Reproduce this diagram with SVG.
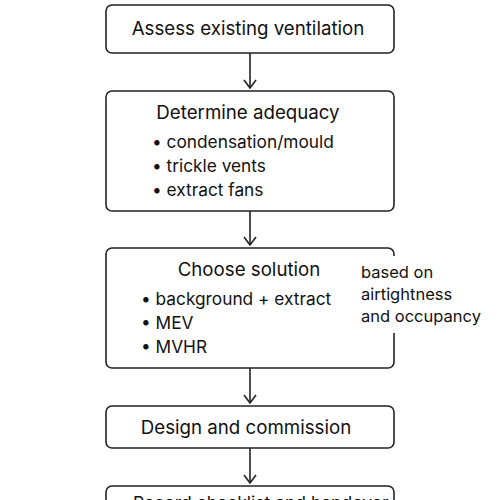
<svg xmlns="http://www.w3.org/2000/svg" width="500" height="500" viewBox="0 0 500 500">
<defs>
<style>
.box{fill:#fff;stroke:#222;stroke-width:1.6}
.t{font-family:Inter,"Liberation Sans",sans-serif;font-size:18.7px;fill:#111}
.c{text-anchor:middle}
.s{font-family:Inter,"Liberation Sans",sans-serif;font-size:17.3px;fill:#111}
.n{font-family:Inter,"Liberation Sans",sans-serif;font-size:16.5px;fill:#111}
.ln{stroke:#222;stroke-width:1.6;fill:none}
</style>
<marker id="ah" viewBox="0 0 10 14" refX="9" refY="7" markerWidth="10" markerHeight="14" markerUnits="userSpaceOnUse" orient="auto">
<path d="M1,1 L9,7 L1,13" fill="none" stroke="#222" stroke-width="1.6"/>
</marker>
</defs>
<rect width="500" height="500" fill="#fff"/>
<g id="connectors">
<line class="ln" x1="250" y1="53" x2="250" y2="88" marker-end="url(#ah)"/>
<line class="ln" x1="250" y1="211" x2="250" y2="245" marker-end="url(#ah)"/>
<line class="ln" x1="250" y1="368" x2="250" y2="403" marker-end="url(#ah)"/>
<line class="ln" x1="250" y1="448" x2="250" y2="483" marker-end="url(#ah)"/>
</g>
<g id="n1">
<rect class="box" x="106" y="5" width="288" height="48" rx="6"/>
<text class="t c" x="248" y="35">Assess existing ventilation</text>
</g>
<g id="n2">
<rect class="box" x="106" y="91" width="288" height="120" rx="6"/>
<text class="t c" x="248" y="119">Determine adequacy</text>
<text class="s" x="152" y="148">•  condensation/mould</text>
<text class="s" x="152" y="172">•  trickle vents</text>
<text class="s" x="152" y="196">•  extract fans</text>
</g>
<g id="n3">
<rect class="box" x="106" y="248" width="288" height="120" rx="6"/>
<text class="t c" x="249" y="276">Choose solution</text>
<text class="s" x="141" y="305">• background + extract</text>
<text class="s" x="141" y="329">• MEV</text>
<text class="s" x="141" y="353">• MVHR</text>
</g>
<g id="note">
<rect x="358" y="256" width="128" height="77" fill="#fff"/>
<text class="n" x="361" y="278">based on</text>
<text class="n" x="361" y="300">airtightness</text>
<text class="n" x="361" y="322">and occupancy</text>
</g>
<g id="n4">
<rect class="box" x="106" y="406" width="288" height="42" rx="6"/>
<text class="t c" x="246" y="434">Design and commission</text>
</g>
<g id="n5">
<rect class="box" x="106" y="486" width="288" height="40" rx="6"/>
<text class="t" x="133" y="509" style="font-size:17.5px">Record checklist and handover</text>
</g>
</svg>
